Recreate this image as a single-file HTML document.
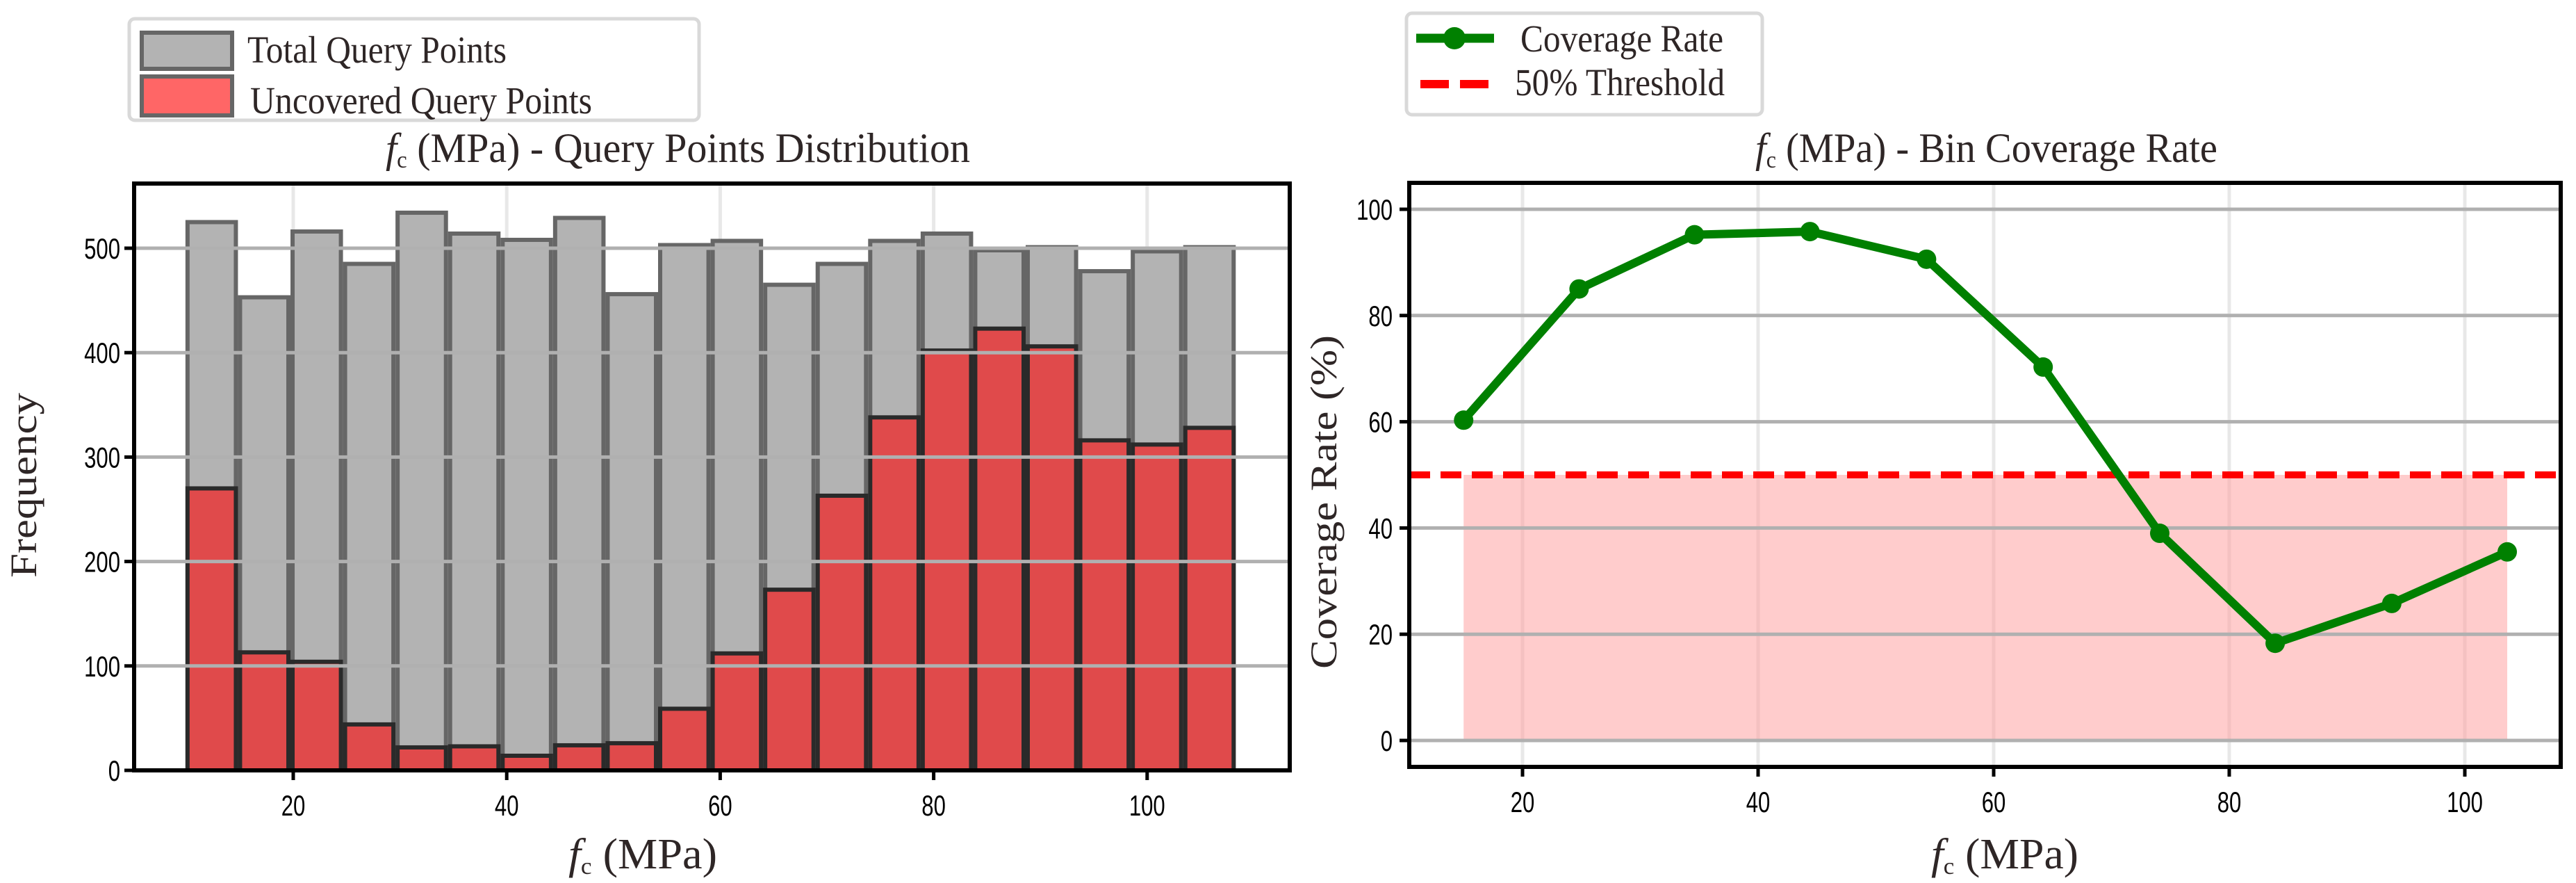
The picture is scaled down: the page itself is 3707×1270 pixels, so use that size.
<!DOCTYPE html>
<html><head><meta charset="utf-8"><style>
html,body{margin:0;padding:0;background:#fff;}
svg{display:block;}
</style></head><body>
<svg id="fig" width="3707" height="1270" viewBox="0 0 3707 1270" xmlns="http://www.w3.org/2000/svg">
<rect width="3707" height="1270" fill="#fff"/>
<g id="left"></g>
<g id="right"></g>
</svg>
<script>
// Left chart data
const binStart = 9.9;
const binWidth = 4.92;
const totalCounts = [527,455,518,487,536,516,510,531,458,505,509,467,487,509,516,500,503,480,499,503];
const uncoveredCounts = [272,115,106,46,24,25,16,26,28,61,114,175,265,340,404,425,408,318,314,330];
const histYTicks = [0,100,200,300,400,500];
const histXTicks = [20,40,60,80,100];
// Right chart data
const covX = [15,24.8,34.6,44.4,54.3,64.2,74.1,83.9,93.8,103.6];
const covRate = [60.3,85.0,95.2,95.8,90.6,70.3,39.0,18.3,25.8,35.5];
const threshold = [50];
const covYTicks = [0,20,40,60,80,100];
const covXTicks = [20,40,60,80,100];

const NS = 'http://www.w3.org/2000/svg';
function mk(parent, tag, attrs, text){
  const e = document.createElementNS(NS, tag);
  for (const k in attrs) e.setAttribute(k, attrs[k]);
  if (text !== undefined) e.textContent = text;
  parent.appendChild(e);
  return e;
}
const serif = '"Liberation Serif", serif';
const sans = '"Liberation Sans", sans-serif';
const txtCol = '#2e2626';
const TF = 42, TS = 0.74;

// ---------- LEFT ----------
const L = document.getElementById('left');
const lx = v => 422 + (v - 20) * 15.36;
const ly = v => 1108 - v * 1.502;
const lL = 193, lR = 1856, lT = 264, lB = 1108;
histXTicks.forEach(t => {
  const g = mk(L, 'line', {x1: lx(t), x2: lx(t), y1: lT, y2: lB, stroke: '#e8e8e8', 'stroke-width': 5});
  
  
});
totalCounts.forEach((c, i) => {
  const x0 = lx(binStart + i * binWidth), x1 = lx(binStart + (i + 1) * binWidth);
  const r = mk(L, 'rect', {x: x0 + 3, y: ly(c) + 3, width: x1 - x0 - 6, height: ly(0) - ly(c) - 3, fill: '#b3b3b3', stroke: '#666', 'stroke-width': 6});
  
  
});
uncoveredCounts.forEach((c, i) => {
  const x0 = lx(binStart + i * binWidth), x1 = lx(binStart + (i + 1) * binWidth);
  const r = mk(L, 'rect', {x: x0 + 3, y: ly(c) + 3, width: x1 - x0 - 6, height: ly(0) - ly(c) - 3, fill: '#e04a4b', stroke: '#2a2a2a', 'stroke-width': 6});
  
  
});
histYTicks.forEach(t => {
  if (t === 0) return;
  const g = mk(L, 'line', {x1: lL, x2: lR, y1: ly(t), y2: ly(t), stroke: '#b0b0b0', 'stroke-width': 5});
  
  
});
const ls = mk(L, 'rect', {x: lL, y: lT, width: lR - lL, height: lB - lT, fill: 'none', stroke: '#000', 'stroke-width': 6});


histYTicks.forEach(t => {
  mk(L, 'line', {x1: lL - 14, x2: lL, y1: ly(t), y2: ly(t), stroke: '#000', 'stroke-width': 5});
  const tx = mk(L, 'text', {x: lL - 20, y: ly(t) + 15, 'text-anchor': 'end', 'font-family': sans, 'font-size': TF, fill: '#000', transform: `translate(${lL-20},0) scale(${TS},1) translate(${-(lL-20)},0)`}, String(t));
  
  
});
histXTicks.forEach(t => {
  mk(L, 'line', {x1: lx(t), x2: lx(t), y1: lB, y2: lB + 14, stroke: '#000', 'stroke-width': 5});
  const tx = mk(L, 'text', {x: lx(t), y: 1173, 'text-anchor': 'middle', 'font-family': sans, 'font-size': TF, fill: '#000', transform: `translate(${lx(t)},0) scale(${TS},1) translate(${-lx(t)},0)`}, String(t));
  
  
});
let t1 = mk(L, 'text', {x: 555, y: 233, 'font-family': serif, 'font-size': 60, fill: txtCol, textLength: 841, lengthAdjust: 'spacingAndGlyphs'});


mk(t1, 'tspan', {'font-style': 'italic'}, 'f');
mk(t1, 'tspan', {'font-size': 34, dy: 8}, 'c');
mk(t1, 'tspan', {dy: -8}, ' (MPa) - Query Points Distribution');
let xl1 = mk(L, 'text', {x: 818, y: 1249, 'font-family': serif, 'font-size': 62, fill: txtCol, textLength: 214, lengthAdjust: 'spacingAndGlyphs'});


mk(xl1, 'tspan', {'font-style': 'italic'}, 'f');
mk(xl1, 'tspan', {'font-size': 34, dy: 8}, 'c');
mk(xl1, 'tspan', {dy: -8}, ' (MPa)');
let yl1 = mk(L, 'text', {x: 0, y: 0, 'font-family': serif, 'font-size': 54, fill: txtCol, 'text-anchor': 'middle', textLength: 266, lengthAdjust: 'spacingAndGlyphs', transform: 'translate(52,698) rotate(-90)'}, 'Frequency');


const lg = mk(L, 'g', {});


mk(lg, 'rect', {x: 186, y: 27, width: 820, height: 146, rx: 8, fill: '#fff', stroke: '#d9d9d9', 'stroke-width': 5});
mk(lg, 'rect', {x: 204, y: 47, width: 130, height: 52, fill: '#b3b3b3', stroke: '#666', 'stroke-width': 6});
mk(lg, 'rect', {x: 204, y: 110, width: 130, height: 56, fill: '#ff6666', stroke: '#666', 'stroke-width': 6});
mk(lg, 'text', {x: 356, y: 90, 'font-family': serif, 'font-size': 55, fill: txtCol, textLength: 373, lengthAdjust: 'spacingAndGlyphs'}, 'Total Query Points');
mk(lg, 'text', {x: 360, y: 163, 'font-family': serif, 'font-size': 55, fill: txtCol, textLength: 492, lengthAdjust: 'spacingAndGlyphs'}, 'Uncovered Query Points');

// ---------- RIGHT ----------
const R = document.getElementById('right');
const rx = v => 2191 + (v - 20) * 16.95;
const ry = v => 1065 - v * 7.64;
const rL = 2028, rR = 3685, rT = 263, rB = 1103;
covXTicks.forEach(t => {
  const g = mk(R, 'line', {x1: rx(t), x2: rx(t), y1: rT, y2: rB, stroke: '#e8e8e8', 'stroke-width': 5});
  
  
});
const shade = mk(R, 'rect', {x: rx(covX[0]), y: ry(threshold[0]), width: rx(covX[covX.length-1]) - rx(covX[0]), height: ry(0) - ry(threshold[0]), fill: '#ff9999', opacity: 0.5});


covYTicks.forEach(t => {
  const g = mk(R, 'line', {x1: rL, x2: rR, y1: ry(t), y2: ry(t), stroke: '#b0b0b0', 'stroke-width': 5});
  
  
});
const th = mk(R, 'line', {x1: rL, x2: rR, y1: ry(threshold[0]), y2: ry(threshold[0]), stroke: '#ff0000', 'stroke-width': 10, 'stroke-dasharray': '30 15'});


const pl = mk(R, 'polyline', {points: covX.map((x, i) => rx(x) + ',' + ry(covRate[i])).join(' '), fill: 'none', stroke: '#008000', 'stroke-width': 12, 'stroke-linejoin': 'round'});


covX.forEach((x, i) => {
  const c = mk(R, 'circle', {cx: rx(x), cy: ry(covRate[i]), r: 14, fill: '#008000'});
  
  
});
const rs = mk(R, 'rect', {x: rL, y: rT, width: rR - rL, height: rB - rT, fill: 'none', stroke: '#000', 'stroke-width': 6});


covYTicks.forEach(t => {
  mk(R, 'line', {x1: rL - 14, x2: rL, y1: ry(t), y2: ry(t), stroke: '#000', 'stroke-width': 5});
  const tx = mk(R, 'text', {x: rL - 24, y: ry(t) + 15, 'text-anchor': 'end', 'font-family': sans, 'font-size': TF, fill: '#000', transform: `translate(${rL-24},0) scale(${TS},1) translate(${-(rL-24)},0)`}, String(t));
  
  
});
covXTicks.forEach(t => {
  mk(R, 'line', {x1: rx(t), x2: rx(t), y1: rB, y2: rB + 14, stroke: '#000', 'stroke-width': 5});
  const tx = mk(R, 'text', {x: rx(t), y: 1168, 'text-anchor': 'middle', 'font-family': sans, 'font-size': TF, fill: '#000', transform: `translate(${rx(t)},0) scale(${TS},1) translate(${-rx(t)},0)`}, String(t));
  
  
});
let t2 = mk(R, 'text', {x: 2526, y: 233, 'font-family': serif, 'font-size': 60, fill: txtCol, textLength: 665, lengthAdjust: 'spacingAndGlyphs'});


mk(t2, 'tspan', {'font-style': 'italic'}, 'f');
mk(t2, 'tspan', {'font-size': 34, dy: 8}, 'c');
mk(t2, 'tspan', {dy: -8}, ' (MPa) - Bin Coverage Rate');
let xl2 = mk(R, 'text', {x: 2779, y: 1249, 'font-family': serif, 'font-size': 62, fill: txtCol, textLength: 212, lengthAdjust: 'spacingAndGlyphs'});


mk(xl2, 'tspan', {'font-style': 'italic'}, 'f');
mk(xl2, 'tspan', {'font-size': 34, dy: 8}, 'c');
mk(xl2, 'tspan', {dy: -8}, ' (MPa)');
let yl2 = mk(R, 'text', {x: 0, y: 0, 'font-family': serif, 'font-size': 54, fill: txtCol, 'text-anchor': 'middle', textLength: 480, lengthAdjust: 'spacingAndGlyphs', transform: 'translate(1923,722) rotate(-90)'}, 'Coverage Rate (%)');


const rg = mk(R, 'g', {});


mk(rg, 'rect', {x: 2024, y: 19, width: 512, height: 146, rx: 8, fill: '#fff', stroke: '#d9d9d9', 'stroke-width': 5});
mk(rg, 'line', {x1: 2038, x2: 2150, y1: 55, y2: 55, stroke: '#008000', 'stroke-width': 13});
mk(rg, 'circle', {cx: 2093, cy: 55, r: 16, fill: '#008000'});
mk(rg, 'line', {x1: 2044, x2: 2142, y1: 121, y2: 121, stroke: '#ff0000', 'stroke-width': 12, 'stroke-dasharray': '41 16'});
mk(rg, 'text', {x: 2188, y: 74, 'font-family': serif, 'font-size': 55, fill: txtCol, textLength: 292, lengthAdjust: 'spacingAndGlyphs'}, 'Coverage Rate');
mk(rg, 'text', {x: 2180, y: 137, 'font-family': serif, 'font-size': 55, fill: txtCol, textLength: 302, lengthAdjust: 'spacingAndGlyphs'}, '50% Threshold');
</script>
</body></html>
